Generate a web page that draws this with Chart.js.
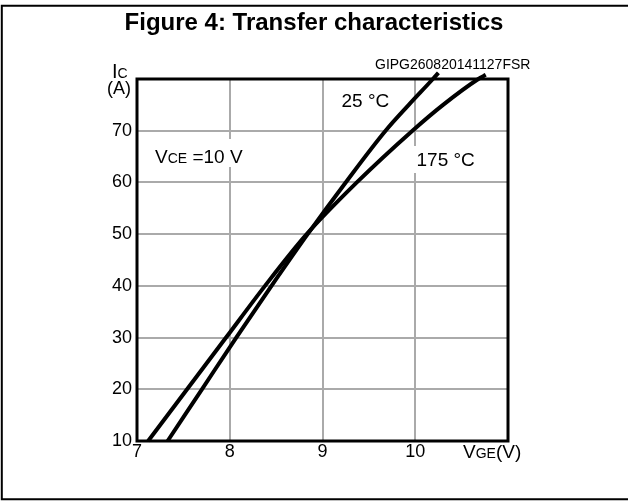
<!DOCTYPE html>
<html>
<head>
<meta charset="utf-8">
<title>Figure 4: Transfer characteristics</title>
<script src="https://cdn.jsdelivr.net/npm/chart.js@4/dist/chart.umd.min.js"></script>
<style>
    html, body { margin: 0; padding: 0; background: #fff; }
    #wrap { width: 628px; height: 501px; position: relative; }
</style>
</head>
<body>
<div id="wrap"><canvas id="transfer-chart"></canvas></div>
<script>
// Datos (VGE en V, IC en A)
const vge25 = [7.33, 7.70, 8.07, 8.45, 8.84, 9.25, 9.68, 9.93, 10.19, 10.25];
const ic25 = [10, 20, 30, 40, 50, 60, 70, 75, 80, 81.2];
const vge175 = [7.12, 7.54, 7.96, 8.38, 8.83, 9.37, 9.97, 10.30, 10.68, 10.76];
const ic175 = [10, 20, 30, 40, 50, 60, 70, 75, 80, 80.8];

const xTicks = [7, 8, 9, 10, 11];
const yTicks = [10, 20, 30, 40, 50, 60, 70, 80];

const FONT = '"Liberation Sans", Arial, sans-serif';

function toPoints(xs, ys) {
    return xs.map((x, i) => ({ x: x, y: ys[i] }));
}

// texto con subíndice pequeño: partes [texto, tamaño]
function drawParts(ctx, parts, x, y) {
    let cx = x;
    parts.forEach(p => {
        ctx.font = p[1] + 'px ' + FONT;
        ctx.fillText(p[0], cx, y);
        cx += ctx.measureText(p[0]).width;
    });
}

const framePlugin = {
    id: 'frame',
    beforeDraw(chart) {
        const ctx = chart.ctx;
        ctx.save();
        ctx.fillStyle = '#fff';
        ctx.fillRect(0, 0, chart.width, chart.height);
        // recuadro exterior
        ctx.strokeStyle = '#000';
        ctx.lineWidth = 2;
        ctx.beginPath();
        ctx.moveTo(700, 5.8);
        ctx.lineTo(1.8, 5.8);
        ctx.lineTo(1.8, 499.3);
        ctx.lineTo(700, 499.3);
        ctx.stroke();
        // título
        ctx.fillStyle = '#000';
        ctx.font = 'bold 24px ' + FONT;
        ctx.textAlign = 'center';
        ctx.textBaseline = 'alphabetic';
        ctx.fillText('Figure 4: Transfer characteristics', 314, 29.5, 392);
        ctx.restore();
    },
    beforeDatasetsDraw(chart) {
        const ctx = chart.ctx;
        const a = chart.chartArea;
        ctx.save();
        // huecos blancos detrás de las etiquetas
        ctx.fillStyle = '#fff';
        ctx.fillRect(150, 139, 100, 28);
        ctx.fillRect(411, 146, 70, 27);
        // marco del gráfico
        ctx.strokeStyle = '#000';
        ctx.lineWidth = 3;
        ctx.strokeRect(a.left, a.top, a.right - a.left, a.bottom - a.top);

        ctx.fillStyle = '#000';
        ctx.textBaseline = 'alphabetic';
        ctx.textAlign = 'left';
        drawParts(ctx, [['V', 19], ['CE', 14], [' =10 V', 19]], 155, 162.7);
        ctx.font = '19px ' + FONT;
        ctx.fillText('25 °C', 341.5, 106.7);
        ctx.fillText('175 °C', 416.5, 166);
        ctx.font = '14px ' + FONT;
        ctx.fillText('GIPG260820141127FSR', 375, 69, 164);
        // títulos de ejes
        drawParts(ctx, [['I', 20], ['C', 14]], 112, 78.3);
        ctx.font = '18px ' + FONT;
        ctx.fillText('(A)', 107, 93.5);
        drawParts(ctx, [['V', 19], ['GE', 14], ['(V)', 19]], 463, 458.3);
        ctx.restore();
    }
};

const ctx = document.getElementById('transfer-chart');

new Chart(ctx, {
    type: 'scatter',
    data: {
        datasets: [{
            label: '25 °C',
            data: toPoints(vge25, ic25),
            showLine: true,
            borderColor: '#000',
            borderWidth: 4,
            pointRadius: 0,
            cubicInterpolationMode: 'monotone',
            clip: false
        }, {
            label: '175 °C',
            data: toPoints(vge175, ic175),
            showLine: true,
            borderColor: '#000',
            borderWidth: 4,
            pointRadius: 0,
            cubicInterpolationMode: 'monotone',
            clip: false
        }]
    },
    options: {
        responsive: true,
        maintainAspectRatio: false,
        animation: false,
        layout: { padding: { left: 0, right: 120, top: 79, bottom: 0 } },
        plugins: {
            legend: { display: false },
            tooltip: { enabled: false },
            title: { display: false }
        },
        scales: {
            x: {
                type: 'linear',
                min: 7,
                max: 11,
                afterFit(scale) { scale.height = 60; },
                afterBuildTicks(scale) { scale.ticks = xTicks.map(v => ({ value: v })); },
                grid: { color: '#aaaaaa', lineWidth: 2, drawTicks: false },
                border: { display: false },
                ticks: {
                    padding: 0,
                    color: '#000',
                    font: { family: FONT, size: 18 },
                    maxRotation: 0,
                    callback: v => (v === 11 ? '' : v)
                }
            },
            y: {
                type: 'linear',
                min: 10,
                max: 80,
                afterFit(scale) { scale.width = 137; },
                afterBuildTicks(scale) { scale.ticks = yTicks.map(v => ({ value: v })); },
                grid: { color: '#aaaaaa', lineWidth: 2, drawTicks: false },
                border: { display: false },
                ticks: {
                    padding: 5,
                    color: '#000',
                    font: { family: FONT, size: 18 },
                    callback: v => (v === 80 ? '' : v)
                }
            }
        }
    },
    plugins: [framePlugin]
});
</script>
</body>
</html>
